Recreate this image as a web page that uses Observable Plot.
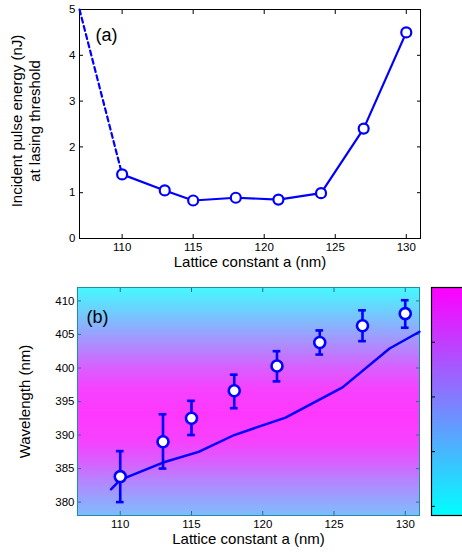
<!DOCTYPE html>
<html><head><meta charset="utf-8">
<script src="https://cdn.jsdelivr.net/npm/d3@7"></script>
<script src="https://cdn.jsdelivr.net/npm/@observablehq/plot@0.6"></script>
<style>
body{margin:0;background:#fff;}
#wrap{position:relative;width:462px;height:555px;overflow:hidden;font-family:"Liberation Sans",Arial,sans-serif;}
#wrap > div{position:absolute;}
#wrap svg{max-width:none !important;}
</style></head>
<body><div id="wrap"><div id="pa" style="left:0;top:0;width:462px"></div><div id="pb" style="left:0;top:280px;width:462px"></div><div id="cb" style="left:430px;top:280px;width:50px"></div></div>
<script>
// ---- data ----
const xDomain = [107, 131];
const xTicks = [110, 115, 120, 125, 130];
// panel (a)
const latticeA = [110, 113, 115, 118, 121, 124, 127, 130];
const thresholdEnergy = [1.4, 1.05, 0.83, 0.89, 0.85, 0.99, 2.4, 4.5];
const dashedLattice = [107, 110];
const dashedEnergy = [5, 1.4];
const yTicksA = [0, 1, 2, 3, 4, 5];
// panel (b)
const latticeB = [110, 113, 115, 118, 121, 124, 127, 130];
const peakWavelength = [383.8, 389.0, 392.5, 396.6, 400.3, 403.8, 406.3, 408.1];
const errLow = [380, 385, 390, 394, 398, 402, 404, 406];
const errHigh = [387.6, 393.1, 395.1, 399.0, 402.5, 405.6, 408.6, 410.1];
const theoryLattice = [109.35, 110, 113, 115.5, 118, 121.6, 125.6, 128.9, 131];
const theoryWavelength = [381.9, 383.3, 385.9, 387.5, 390.0, 392.6, 397.1, 402.9, 405.4];
const yDomainB = [378, 412];
const yTicksB = [380, 385, 390, 395, 400, 405, 410];
// background gain profile (wavelength -> relative level)
const gainWavelength = [378, 380, 383, 386, 389, 393, 397, 400, 403, 406, 409, 412];
const gainLevel = [0.33, 0.43, 0.6, 0.8, 0.95, 1.0, 0.95, 0.8, 0.6, 0.4, 0.2, 0.02];
// colorbar ticks (fraction)
const colorbarTicks = [0.04, 0.28, 0.52, 0.76];

const font = {fontFamily: '"Liberation Sans", Arial, sans-serif', fontSize: "11.5px", background: "transparent", overflow: "visible"};
const blue = "#0000ff";
const intFmt = d3.format("d");

function gainAt(w) {
  const i = Math.max(1, Math.min(gainWavelength.length - 1, d3.bisectRight(gainWavelength, w)));
  const w0 = gainWavelength[i - 1], w1 = gainWavelength[i];
  const t = (w - w0) / (w1 - w0);
  return gainLevel[i - 1] + (gainLevel[i] - gainLevel[i - 1]) * Math.max(0, Math.min(1, t));
}

// ---- panel (a) ----
const idxA = d3.range(latticeA.length);
const pa = Plot.plot({
  width: 462, height: 280,
  marginLeft: 79, marginRight: 42, marginTop: 9, marginBottom: 42,
  style: font,
  x: {domain: xDomain},
  y: {domain: [0, 5]},
  marks: [
    Plot.axisX({ticks: xTicks, tickSize: 0, tickPadding: 4, tickFormat: intFmt, label: null}),
    Plot.axisX({ticks: xTicks, tickSize: -4, tickFormat: () => "", label: null}),
    Plot.axisX({ticks: xTicks, anchor: "top", tickSize: -4, tickFormat: () => "", label: null}),
    Plot.axisY({ticks: yTicksA, tickSize: 0, tickPadding: 4, tickFormat: intFmt, label: null}),
    Plot.axisY({ticks: yTicksA, tickSize: -4, tickFormat: () => "", label: null}),
    Plot.axisY({ticks: yTicksA, anchor: "right", tickSize: -4, tickFormat: () => "", label: null}),
    Plot.frame({stroke: "#000"}),
    Plot.line(d3.range(2), {x: i => dashedLattice[i], y: i => dashedEnergy[i], stroke: blue, strokeWidth: 2.2, strokeDasharray: "5,3.5"}),
    Plot.line(idxA, {x: i => latticeA[i], y: i => thresholdEnergy[i], stroke: blue, strokeWidth: 2.2}),
    Plot.dot(idxA, {x: i => latticeA[i], y: i => thresholdEnergy[i], r: 5, fill: "white", stroke: blue, strokeWidth: 2.2}),
    Plot.text(["(a)"], {frameAnchor: "top-left", dx: 16, dy: 19, fontSize: 18, textAnchor: "start"}),
    Plot.text(["Lattice constant a (nm)"], {frameAnchor: "bottom", dy: 28, fontSize: 15}),
    Plot.text(["Incident pulse energy (nJ)"], {frameAnchor: "left", dx: -62, dy: -3, rotate: -90, fontSize: 15, textAnchor: "middle"}),
    Plot.text(["at lasing threshold"], {frameAnchor: "left", dx: -44, dy: -3, rotate: -90, fontSize: 15, textAnchor: "middle"})
  ]
});
document.getElementById("pa").appendChild(pa);

// ---- panel (b) ----
const idxB = d3.range(latticeB.length);
const idxT = d3.range(theoryLattice.length);
const pb = Plot.plot({
  width: 462, height: 275,
  marginLeft: 77, marginRight: 43, marginTop: 7, marginBottom: 40,
  style: font,
  x: {domain: xDomain},
  y: {domain: yDomainB},
  color: {type: "linear", domain: [0, 1], range: ["#42fdfd", "#ff38ff"], interpolate: "rgb"},
  marks: [
    Plot.raster({x1: xDomain[0], x2: xDomain[1], y1: yDomainB[0], y2: yDomainB[1], width: 2, height: 240, fill: (x, y) => gainAt(y)}),
    Plot.axisX({ticks: xTicks, tickSize: 0, tickPadding: 4, tickFormat: intFmt, label: null}),
    Plot.axisX({ticks: xTicks, tickSize: -4, tickFormat: () => "", label: null, stroke: "#2a6f90"}),
    Plot.axisX({ticks: xTicks, anchor: "top", tickSize: -4, tickFormat: () => "", label: null, stroke: "#2a6f90"}),
    Plot.axisY({ticks: yTicksB, tickSize: 0, tickPadding: 3, tickFormat: intFmt, label: null}),
    Plot.axisY({ticks: yTicksB, tickSize: -4, tickFormat: () => "", label: null, stroke: "#2a6f90"}),
    Plot.axisY({ticks: yTicksB, anchor: "right", tickSize: -4, tickFormat: () => "", label: null, stroke: "#2a6f90"}),
    Plot.frame({stroke: "#1d8fa3"}),
    Plot.line(idxT, {x: i => theoryLattice[i], y: i => theoryWavelength[i], stroke: blue, strokeWidth: 2.4}),
    Plot.ruleX(idxB, {x: i => latticeB[i], y1: i => errLow[i], y2: i => errHigh[i], stroke: blue, strokeWidth: 2.6}),
    Plot.ruleY(idxB, {y: i => errLow[i], x1: i => latticeB[i] - 0.27, x2: i => latticeB[i] + 0.27, stroke: blue, strokeWidth: 2.6}),
    Plot.ruleY(idxB, {y: i => errHigh[i], x1: i => latticeB[i] - 0.27, x2: i => latticeB[i] + 0.27, stroke: blue, strokeWidth: 2.6}),
    Plot.dot(idxB, {x: i => latticeB[i], y: i => peakWavelength[i], r: 5.5, fill: "white", stroke: blue, strokeWidth: 2.6}),
    Plot.text(["(b)"], {frameAnchor: "top-left", dx: 9, dy: 23, fontSize: 18, textAnchor: "start"}),
    Plot.text(["Lattice constant a (nm)"], {frameAnchor: "bottom", dy: 28, fontSize: 15}),
    Plot.text(["Wavelength (nm)"], {frameAnchor: "left", dx: -52, rotate: -90, fontSize: 15, textAnchor: "middle"})
  ]
});
document.getElementById("pb").appendChild(pb);

// ---- colorbar ----
const cb = Plot.plot({
  width: 50, height: 236,
  marginLeft: 1, marginRight: 0, marginTop: 7, marginBottom: 1,
  style: font,
  x: {domain: [0, 1], axis: null},
  y: {domain: [0, 1], axis: null},
  color: {type: "linear", domain: [0, 1], range: ["#00ffff", "#ff00ff"], interpolate: "rgb"},
  marks: [
    Plot.raster({x1: 0, x2: 1, y1: 0, y2: 1, width: 2, height: 240, fill: (x, y) => y}),
    Plot.axisY({ticks: colorbarTicks, anchor: "left", tickSize: -4, tickFormat: () => "", label: null, stroke: "#000"}),
    Plot.frame({stroke: "#000", strokeWidth: 1.2})
  ]
});
document.getElementById("cb").appendChild(cb);
</script></body></html>
